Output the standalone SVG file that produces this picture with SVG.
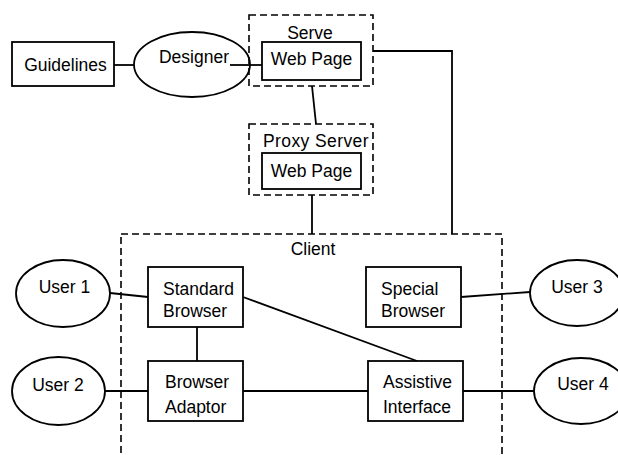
<svg xmlns="http://www.w3.org/2000/svg" width="618" height="455" viewBox="0 0 618 455">
  <style>
    .box { fill: #fff; stroke: #000; stroke-width: 1.8; }
    .zone { fill: none; stroke: #000; stroke-width: 1.6; stroke-dasharray: 7 4; }
    .edge { fill: none; stroke: #000; stroke-width: 1.8; }
    text { font-family: "Liberation Sans", Arial, Helvetica, sans-serif; font-size: 17.5px; fill: #000; }
    .c { text-anchor: middle; }
  </style>
  <rect width="618" height="455" fill="#fff"/>

  <!-- dashed zones -->
  <g id="server">
    <rect class="zone" x="249" y="15" width="124" height="71"/>
    <text class="c" x="310" y="39">Serve</text>
  </g>
  <g id="proxy">
    <rect class="zone" x="249" y="124" width="124" height="71"/>
    <text class="c" x="316" y="147" letter-spacing="0.4">Proxy Server</text>
  </g>
  <g id="client">
    <rect class="zone" x="121" y="234" width="381" height="240"/>
    <text class="c" x="313" y="255">Client</text>
  </g>

  <!-- connectors -->
  <g id="connectors">
    <line class="edge" x1="114" y1="65" x2="134" y2="65"/>
    <line class="edge" x1="230" y1="65" x2="262" y2="65"/>
    <line class="edge" x1="312" y1="86" x2="316" y2="124"/>
    <line class="edge" x1="312" y1="195" x2="312" y2="234"/>
    <path class="edge" d="M373,51 H452 V234"/>
    <line class="edge" x1="110" y1="293" x2="148" y2="297"/>
    <line class="edge" x1="197" y1="327" x2="197" y2="361"/>
    <line class="edge" x1="243" y1="297" x2="417" y2="361"/>
    <line class="edge" x1="105" y1="391" x2="148" y2="391"/>
    <line class="edge" x1="243" y1="391" x2="368" y2="391"/>
    <line class="edge" x1="461" y1="297" x2="530" y2="292"/>
    <line class="edge" x1="463" y1="391" x2="534" y2="391"/>
  </g>

  <!-- nodes -->
  <g id="guidelines">
    <rect class="box" x="12" y="42" width="102" height="44"/>
    <text class="c" x="65.5" y="71">Guidelines</text>
  </g>
  <g id="designer">
    <ellipse class="box" cx="192" cy="64.5" rx="58" ry="32.5" style="fill:none"/>
    <text class="c" x="194" y="63">Designer</text>
  </g>
  <g id="server-page">
    <rect class="box" x="262" y="42" width="99" height="38"/>
    <text class="c" x="311.5" y="65">Web Page</text>
  </g>
  <g id="proxy-page">
    <rect class="box" x="262" y="153" width="99" height="36"/>
    <text class="c" x="311.5" y="177">Web Page</text>
  </g>
  <g id="standard-browser">
    <rect class="box" x="148" y="267" width="95" height="60"/>
    <text x="163" y="295">Standard</text>
    <text x="163" y="317">Browser</text>
  </g>
  <g id="special-browser">
    <rect class="box" x="366" y="267" width="95" height="60"/>
    <text x="381" y="295">Special</text>
    <text x="381" y="317">Browser</text>
  </g>
  <g id="browser-adaptor">
    <rect class="box" x="148" y="361" width="95" height="60"/>
    <text x="165" y="388">Browser</text>
    <text x="165" y="413">Adaptor</text>
  </g>
  <g id="assistive-interface">
    <rect class="box" x="368" y="361" width="95" height="60"/>
    <text x="383" y="388">Assistive</text>
    <text x="383" y="413">Interface</text>
  </g>
  <g id="user1">
    <ellipse class="box" cx="63" cy="293.5" rx="47" ry="33.5"/>
    <text class="c" x="64.5" y="293">User 1</text>
  </g>
  <g id="user2">
    <ellipse class="box" cx="58.5" cy="391" rx="46.5" ry="34"/>
    <text class="c" x="58" y="391">User 2</text>
  </g>
  <g id="user3">
    <ellipse class="box" cx="577" cy="293" rx="47" ry="33"/>
    <text class="c" x="577" y="293">User 3</text>
  </g>
  <g id="user4">
    <ellipse class="box" cx="581" cy="391" rx="47" ry="33"/>
    <text class="c" x="583" y="390">User 4</text>
  </g>
</svg>
